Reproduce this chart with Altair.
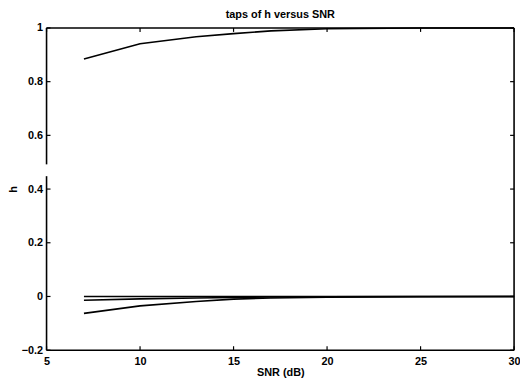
import altair as alt
import pandas as pd

# data
snr = [7, 10, 13, 15, 17, 20, 25, 30]
tap0 = [0.884, 0.941, 0.967, 0.979, 0.989, 0.997, 1.0, 1.0]
tap1 = [0.0, 0.0, 0.0, 0.0, 0.0, 0.0, 0.0, 0.0]
tap2 = [-0.014, -0.009, -0.006, -0.004, -0.002, -0.001, 0.0, 0.0]
tap3 = [-0.063, -0.035, -0.019, -0.010, -0.006, -0.003, -0.001, 0.0]

x_ticks = [5, 10, 15, 20, 25, 30]
y_ticks = [-0.2, 0, 0.2, 0.4, 0.6, 0.8, 1]

# left axis line segments (the axis has a small break): starts and ends
seg_start = [-0.2, 0.492]
seg_end = [0.448, 1.0]

W, H = 473, 326
FONT = "Liberation Sans"

rows = []
for name, vals in [("h0", tap0), ("h1", tap1), ("h2", tap2), ("h3", tap3)]:
    for s, v in zip(snr, vals):
        rows.append({"snr": s, "h": v, "tap": name})
df = pd.DataFrame(rows)

xscale = alt.Scale(domain=[5, 30], nice=False, zero=False)
yscale = alt.Scale(domain=[-0.2, 1], nice=False, zero=False)

xaxis = alt.Axis(values=x_ticks, title="SNR (dB)", tickSize=0, domain=False,
                 grid=False, labelPadding=5, titlePadding=1,
                 labelOverlap=False, labelFlush=False)
yaxis = alt.Axis(values=y_ticks, title="h", tickSize=0, domain=False,
                 grid=False, labelPadding=4, titlePadding=3,
                 labelOverlap=False, labelFlush=False, format="~g")

lines = alt.Chart(df).mark_line(color="black", strokeWidth=1.6).encode(
    x=alt.X("snr:Q", scale=xscale, axis=xaxis),
    y=alt.Y("h:Q", scale=yscale, axis=yaxis),
    detail="tap:N",
)

xt = pd.DataFrame({"snr": x_ticks})
yt = pd.DataFrame({"h": y_ticks})
one = pd.DataFrame({"a": [0]})

tick_style = dict(color="black", strokeWidth=1.2)
frame_style = dict(color="black", strokeWidth=1.6)

xb = alt.Chart(xt).mark_rule(**tick_style).encode(
    x=alt.X("snr:Q", scale=xscale, axis=xaxis), y=alt.value(H - 4), y2=alt.value(H))
xtop = alt.Chart(xt).mark_rule(**tick_style).encode(
    x=alt.X("snr:Q", scale=xscale, axis=xaxis), y=alt.value(0), y2=alt.value(4))
yl = alt.Chart(yt).mark_rule(**tick_style).encode(
    y=alt.Y("h:Q", scale=yscale, axis=yaxis), x=alt.value(0), x2=alt.value(4))
yr = alt.Chart(yt).mark_rule(**tick_style).encode(
    y=alt.Y("h:Q", scale=yscale, axis=yaxis), x=alt.value(W - 4), x2=alt.value(W))

frame_top = alt.Chart(one).mark_rule(**frame_style).encode(
    x=alt.value(0), x2=alt.value(W), y=alt.value(0))
frame_bot = alt.Chart(one).mark_rule(**frame_style).encode(
    x=alt.value(0), x2=alt.value(W), y=alt.value(H))
frame_right = alt.Chart(one).mark_rule(**frame_style).encode(
    x=alt.value(W), y=alt.value(0), y2=alt.value(H))

segs = pd.DataFrame({"h": seg_start, "h2": seg_end})
frame_left = alt.Chart(segs).mark_rule(**frame_style).encode(
    y=alt.Y("h:Q", scale=yscale, axis=yaxis), y2="h2:Q", x=alt.value(0))

chart = alt.layer(
    lines, frame_top, frame_bot, frame_right, frame_left, xb, xtop, yl, yr
).properties(
    width=W, height=H,
    title=alt.TitleParams("taps of h versus SNR", fontSize=11, font=FONT,
                          fontWeight="bold", color="black", offset=2, anchor="middle"),
    autosize=alt.AutoSizeParams(type="none"),
    padding={"left": 39, "top": 18, "right": 6, "bottom": 29},
).configure_view(stroke=None).configure_axis(
    labelFont=FONT, titleFont=FONT, labelFontSize=11, titleFontSize=11,
    labelFontWeight="bold", titleFontWeight="bold",
    labelColor="black", titleColor="black",
)

chart.save("out.html", embed_options={"renderer": "svg", "actions": False})
